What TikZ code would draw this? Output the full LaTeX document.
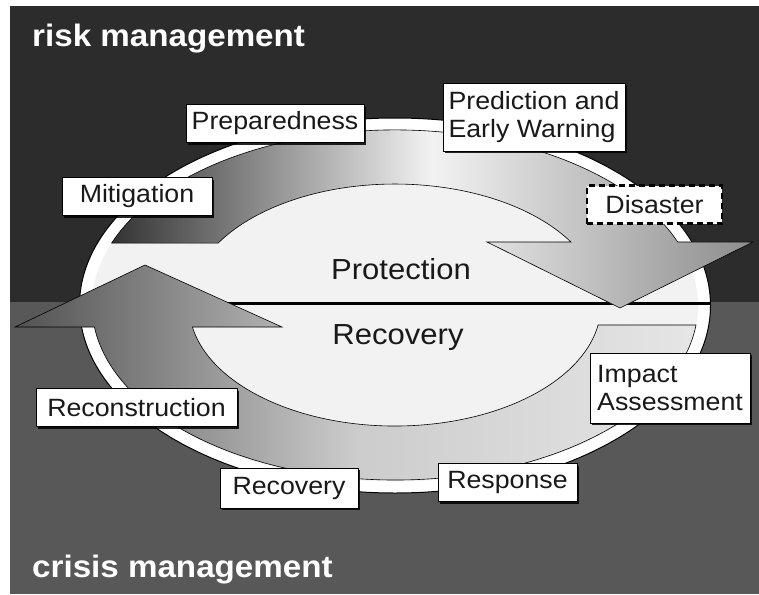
\documentclass[tikz,border=0pt]{standalone}
\usepackage{fontspec}
\setmainfont{Liberation Sans}[FakeStretch=1.07]
\usetikzlibrary{positioning, shadows}

\definecolor{riskbg}{HTML}{2C2C2C}
\definecolor{crisisbg}{HTML}{585858}

\begin{document}
\begin{tikzpicture}[
	x=1pt, y=-1pt,
	phase/.style = {shape=rectangle, draw=black, line width=0.8pt, fill=white, inner sep=0pt, minimum height=38pt, align=left, text=black!90, font=\fontsize{25}{28}\selectfont, drop shadow={shadow xshift=2pt, shadow yshift=-2pt, fill=black, opacity=0.85}},
	event/.style = {shape=rectangle, draw=black, dash pattern=on 6pt off 4pt, line width=2.2pt, fill=white, inner sep=0pt, minimum height=38pt, text=black!90, font=\fontsize{25}{28}\selectfont},
	zone/.style = {inner sep=0pt, anchor=base west, text=white, font=\bfseries\fontsize{31}{31}\selectfont},
	core/.style = {inner sep=0pt, anchor=base, text=black!90, font=\fontsize{29}{29}\selectfont},
	ring/.style = {draw=black, line width=1pt, fill=white},
	cycarrow/.style = {draw=black, line width=0.6pt},
	]
\useasboundingbox (0,0) rectangle (759,594);
\fill[white] (0,0) rectangle (759,594);
% background halves
\fill[riskbg] (10,6) rectangle (759,302);
\fill[crisisbg] (10,302) rectangle (759,594);
% ellipse
\path[ring] (395,305.5) ellipse[x radius=315.5, y radius=187.5];
\fill[black!5] (395,305.5) ellipse[x radius=303, y radius=176];
\coordinate (cutL) at (200,303);
\coordinate (cutR) at (711,303);
\draw[line width=3pt] (cutL) -- (cutR);
% protection arrow, top
\path[cycarrow, left color=black!80, right color=black!45, middle color=black!5]
	(111.6,243.1) arc[start angle=200.7, end angle=338.9, x radius=303, y radius=175]
	-- (753,242) -- (620,308) -- (487,242) -- (570.9,242.0)
	arc[start angle=328.6, end angle=210.8, x radius=206, y radius=121] -- cycle;
% recovery arrow, bottom
\path[cycarrow, left color=black!68, right color=black!10, middle color=black!20]
	(696.0,325) arc[start angle=6.56, end angle=172.78, x radius=303, y radius=175]
	-- (15,327) -- (145,265) -- (282,327) -- (192.4,327)
	arc[start angle=169.53, end angle=9.51, x radius=206, y radius=121] -- cycle;
% zone labels
\node[zone] (risk) at (32,46) {risk management};
\node[zone] (crisis) at (32,577) {crisis management};
\node[core] (prot) at (401,279) {Protection};
\node[core] (recov) at (398,344) {Recovery};
% phases, clockwise from the left
\node[phase, minimum width=150pt] (miti) at (137,196.5) {Mitigation};
\node[phase, minimum width=178pt] (prep) at (275,123.5) {Preparedness};
\node[phase, minimum width=182pt, minimum height=68pt] (pred) at (534,117) {Prediction and\\Early Warning};
\node[event, minimum width=135pt] (disa) at (654.5,204.5) {Disaster};
\node[phase, minimum width=160pt, minimum height=70pt] (impa) at (670,388) {Impact\\Assessment};
\node[phase, minimum width=139pt] (resp) at (507.5,482.5) {Response};
\node[phase, minimum width=138pt, minimum height=40pt] (recv) at (289,488) {Recovery};
\node[phase, minimum width=201pt] (reco) at (136.5,407.5) {Reconstruction};
\end{tikzpicture}
\end{document}
